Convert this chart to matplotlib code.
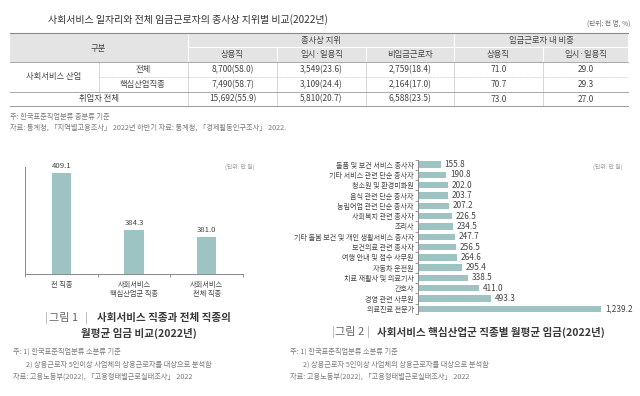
import matplotlib
matplotlib.use('Agg')
import matplotlib.pyplot as plt
from matplotlib.lines import Line2D
from matplotlib.patches import Rectangle

plt.rcParams['font.family'] = ['Noto Sans CJK KR', 'DejaVu Sans']

# ---- 표 데이터 ----
title = '사회서비스 일자리와 전체 임금근로자의 종사상 지위별 비교(2022년)'
status_cols = ['상용직', '임시·일용직', '비임금근로자']
share_cols = ['상용직', '임시·일용직']
row_names = ['전체', '핵심산업직종', '취업자 전체']
regular_n = [8700, 7490, 15692]
regular_p = [58.0, 58.7, 55.9]
temp_n = [3549, 3109, 5810]
temp_p = [23.6, 24.4, 20.7]
nonwage_n = [2759, 2164, 6588]
nonwage_p = [18.4, 17.0, 23.5]
share_regular = [71.0, 70.7, 73.0]
share_temp = [29.0, 29.3, 27.0]

# ---- 그림 1 ----
fig1_cats = ['전 직종', '사회서비스\n핵심산업군 직종', '사회서비스\n전체 직종']
fig1_vals = [409.1, 384.3, 381.0]

# ---- 그림 2 ----
fig2_cats = ['돌품 및 보건 서비스 종사자', '기타 서비스 관련 단순 종사자', '청소원 및 환경미화원',
             '음식 관련 단순 종사자', '농림어업 관련 단순 종사자', '사회복지 관련 종사자', '조리사',
             '기타 돌봄 보건 및 개인 생활서비스 종사자', '보건의료 관련 종사자', '여행 안내 및 접수 사무원',
             '자동차 운전원', '치료 재활사 및 의료기사', '간호사', '경영 관련 사무원', '의료진료 전문가']
fig2_vals = [155.8, 190.8, 202.0, 203.7, 207.2, 226.5, 234.5, 247.7, 256.5, 264.6,
             295.4, 338.5, 411.0, 493.3, 1239.2]

W, H = 640, 396
bar_color = '#9dc4c2'
txt = '#444444'
note_c = '#7a7a7a'


def fx(x):
    return x / W


def fy(y):
    return 1 - y / H


def hline(fig, y, x0, x1, **kw):
    fig.add_artist(Line2D([fx(x0), fx(x1)], [fy(y), fy(y)], **kw))


def vline(fig, x, y0, y1, **kw):
    fig.add_artist(Line2D([fx(x), fx(x)], [fy(y0), fy(y1)], **kw))


fig = plt.figure(figsize=(W / 100, H / 100), dpi=100)
fig.patch.set_facecolor('white')

# ---- 표 ----
fig.text(fx(48), fy(20), title, fontsize=7.2, color='#333333', va='center', ha='left')
fig.text(fx(630), fy(24), '(단위: 천 명, %)', fontsize=4.8, color='#666666', va='center', ha='right')

cx = [10, 99, 188, 277, 366, 454, 543, 628]

fig.add_artist(Rectangle((fx(10), fy(62)), fx(618), (62 - 33) / H, color='#e4e4e4', lw=0))
# 헤더 구분선(흰색)
hline(fig, 47, 188, 628, color='white', lw=0.8)
for x in [188, 454]:
    vline(fig, x, 33, 62, color='white', lw=0.8)
for x in [277, 366, 543]:
    vline(fig, x, 47, 62, color='white', lw=0.8)
# 본문 구분선
for x in [188, 277, 366, 454, 543]:
    vline(fig, x, 62, 106, color='#d0d0d0', lw=0.6)
vline(fig, 99, 62, 92, color='#d0d0d0', lw=0.6)
hline(fig, 33, 10, 628, color='#8a8a8a', lw=0.8)
hline(fig, 62, 10, 628, color='#9a9a9a', lw=0.6)
hline(fig, 77, 99, 628, color='#bbbbbb', lw=0.5, ls=(0, (1, 1)))
hline(fig, 92, 10, 628, color='#9a9a9a', lw=0.6)
hline(fig, 106, 10, 628, color='#9a9a9a', lw=0.7)

fs = 6.0
fig.text(fx(98), fy(48), '구분', fontsize=fs, color=txt, ha='center', va='center')
fig.text(fx(321), fy(40), '종사상 지위', fontsize=fs, color=txt, ha='center', va='center')
fig.text(fx(541), fy(40), '임금근로자 내 비중', fontsize=fs, color=txt, ha='center', va='center')
for i, s in enumerate(status_cols):
    fig.text(fx((cx[i + 2] + cx[i + 3]) / 2), fy(54.5), s, fontsize=fs, color=txt, ha='center', va='center')
for i, s in enumerate(share_cols):
    fig.text(fx((cx[i + 5] + cx[i + 6]) / 2), fy(54.5), s, fontsize=fs, color=txt, ha='center', va='center')

fig.text(fx(54), fy(77), '사회서비스 산업', fontsize=fs, color=txt, ha='center', va='center')
row_y = [69.5, 84.5, 99]
fig.text(fx(143), fy(row_y[0]), row_names[0], fontsize=fs, color=txt, ha='center', va='center')
fig.text(fx(143), fy(row_y[1]), row_names[1], fontsize=fs, color=txt, ha='center', va='center')
fig.text(fx(99), fy(row_y[2]), row_names[2], fontsize=fs, color=txt, ha='center', va='center')
for r in range(3):
    cells = [f'{regular_n[r]:,}({regular_p[r]:.1f})', f'{temp_n[r]:,}({temp_p[r]:.1f})',
             f'{nonwage_n[r]:,}({nonwage_p[r]:.1f})', f'{share_regular[r]:.1f}', f'{share_temp[r]:.1f}']
    for c, s in enumerate(cells):
        fig.text(fx((cx[c + 2] + cx[c + 3]) / 2), fy(row_y[r]), s, fontsize=fs, color=txt,
                 ha='center', va='center')

fig.text(fx(10), fy(117), '주: 한국표준직업분류 중분류 기준', fontsize=5.2, color=note_c, va='center')
fig.text(fx(10), fy(128), '자료: 통계청, 「지역별고용조사」 2022년 하반기 자료: 통계청, 「경제활동인구조사」 2022.',
         fontsize=5.2, color=note_c, va='center')

# ---- 그림 1 ----
ax1 = fig.add_axes([fx(25), fy(274), (243 - 25) / W, (274 - 167) / H])
ax1.bar(range(len(fig1_vals)), fig1_vals, width=0.27, color=bar_color)
ax1.set_xlim(-0.5, 2.5)
ax1.set_ylim(365, 411.5)
for i, v in enumerate(fig1_vals):
    ax1.text(i, v + 1.2, f'{v:.1f}', ha='center', va='bottom', fontsize=5.6, color=txt)
ax1.set_xticks(range(len(fig1_cats)))
ax1.set_xticklabels(fig1_cats, fontsize=5.2, color=txt, linespacing=1.15)
ax1.set_xticks([-0.5, 0.5, 1.5, 2.5], minor=True)
ax1.tick_params(axis='x', which='major', length=0, pad=5)
ax1.tick_params(axis='x', which='minor', length=2.5, color='#888888', width=0.6)
ax1.set_yticks([])
for s in ['top', 'right']:
    ax1.spines[s].set_visible(False)
for s in ['left', 'bottom']:
    ax1.spines[s].set_color('#888888')
    ax1.spines[s].set_linewidth(0.7)
fig.text(fx(240), fy(167), '(단위: 만 원)', fontsize=4.2, color='#999999', ha='center', va='center')

fig.text(fx(46), fy(318), '|', fontsize=8, color='#aaaaaa', ha='center', va='center')
fig.text(fx(64), fy(318), '그림 1', fontsize=8, color='#666666', ha='center', va='center')
fig.text(fx(86), fy(318), '|', fontsize=8, color='#aaaaaa', ha='center', va='center')
fig.text(fx(97), fy(318), '사회서비스 직종과 전체 직종의', fontsize=7.6, color='#3a3a3a',
         ha='left', va='center', weight='bold')
fig.text(fx(139), fy(333), '월평균 임금 비교(2022년)', fontsize=7.6, color='#3a3a3a',
         ha='center', va='center', weight='bold')

fig.text(fx(13), fy(352), '주: 1) 한국표준직업분류 소분류 기준', fontsize=5.2, color=note_c, va='center')
fig.text(fx(26), fy(365), '2) 상용근로자 5인이상 사업체의 상용근로자를 대상으로 분석함', fontsize=5.2,
         color=note_c, va='center')
fig.text(fx(13), fy(377), '자료: 고용노동부(2022), 「고용형태별근로실태조사」 2022', fontsize=5.2,
         color=note_c, va='center')

# ---- 그림 2 ----
ax2 = fig.add_axes([fx(418), fy(314), 210 / W, 154.5 / H])
ax2.barh(range(len(fig2_vals)), fig2_vals, height=0.62, color=bar_color)
ax2.set_ylim(len(fig2_vals) - 0.5, -0.5)
ax2.set_xlim(0, 1419)
for i, v in enumerate(fig2_vals):
    ax2.text(v + 25, i, f'{v:,.1f}', va='center', ha='left', fontsize=5.9, color=txt)
ax2.set_yticks(range(len(fig2_cats)))
ax2.set_yticklabels(fig2_cats, fontsize=5.1, color=txt)
ax2.set_yticks([i - 0.5 for i in range(len(fig2_cats) + 1)], minor=True)
ax2.tick_params(axis='y', which='major', length=0, pad=3)
ax2.tick_params(axis='y', which='minor', length=2, color='#888888', width=0.6)
ax2.set_xticks([])
for s in ['top', 'right', 'bottom']:
    ax2.spines[s].set_visible(False)
ax2.spines['left'].set_color('#888888')
ax2.spines['left'].set_linewidth(0.7)
fig.text(fx(608), fy(167), '(단위: 만 원)', fontsize=4.2, color='#999999', ha='center', va='center')

fig.text(fx(333), fy(332), '|', fontsize=8, color='#aaaaaa', ha='center', va='center')
fig.text(fx(350), fy(332), '그림 2', fontsize=8, color='#666666', ha='center', va='center')
fig.text(fx(368), fy(332), '|', fontsize=8, color='#aaaaaa', ha='center', va='center')
fig.text(fx(377), fy(332), '사회서비스 핵심산업군 직종별 월평균 임금(2022년)', fontsize=7.6,
         color='#3a3a3a', ha='left', va='center', weight='bold')

fig.text(fx(290), fy(352), '주: 1) 한국표준직업분류 소분류 기준', fontsize=5.2, color=note_c, va='center')
fig.text(fx(303), fy(365), '2) 상용근로자 5인이상 사업체의 상용근로자를 대상으로 분석함', fontsize=5.2,
         color=note_c, va='center')
fig.text(fx(290), fy(377), '자료: 고용노동부(2022), 「고용형태별근로실태조사」 2022', fontsize=5.2,
         color=note_c, va='center')

fig.savefig('out.png', dpi=100)
